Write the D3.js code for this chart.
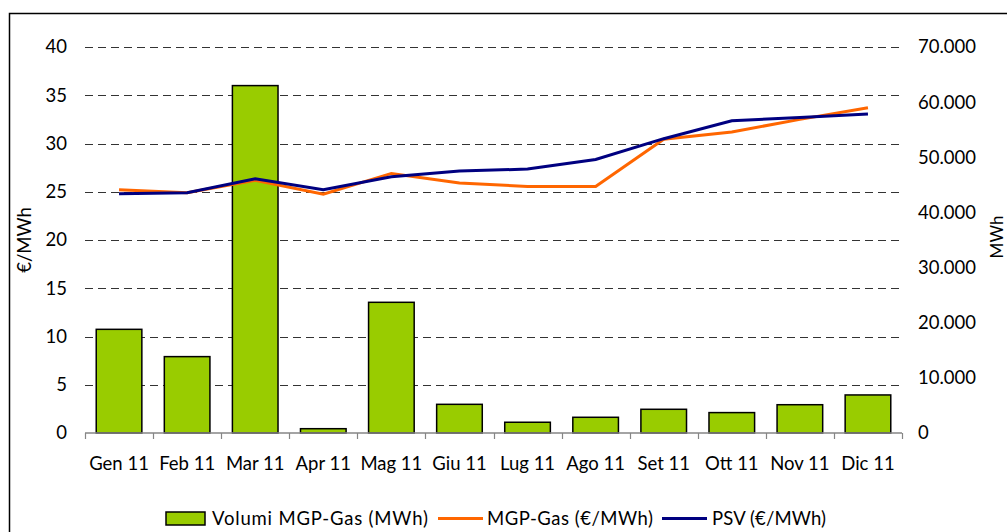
<!DOCTYPE html>
<html><head><meta charset="utf-8">
<script src="https://cdn.jsdelivr.net/npm/d3@7"></script>
<style>body{margin:0;background:#fff}svg{display:block}text{font-family:Lato,"Open Sans",sans-serif;fill:#000}</style>
</head><body><svg id="c" width="1007" height="532"></svg>
<script>
const months = ["Gen 11","Feb 11","Mar 11","Apr 11","Mag 11","Giu 11","Lug 11","Ago 11","Set 11","Ott 11","Nov 11","Dic 11"];
const volumi = [18800,13850,63000,780,23700,5200,1950,2850,4300,3700,5130,6900];
const mgpPrice = [25.2,24.9,26.2,24.75,26.9,25.9,25.55,25.55,30.45,31.2,32.5,33.7];
const psvPrice = [24.8,24.9,26.35,25.2,26.55,27.15,27.35,28.35,30.5,32.35,32.7,33.05];
const leftTicks = [0,5,10,15,20,25,30,35,40];
const rightTicks = [0,10000,20000,30000,40000,50000,60000,70000];
const seriesNames = ["Volumi MGP-Gas (MWh)","MGP-Gas (€/MWh)","PSV (€/MWh)"];

const svg = d3.select("#c");
const L = 85, R = 902, T = 47, B = 433;
const FS = 18.5;
const x = d3.scaleBand().domain(months).range([L,R]).paddingInner(0.33).paddingOuter(0.165);
const xb = d3.scaleBand().domain(months).range([L,R]);
const yL = d3.scaleLinear().domain([0,40]).range([B,T]);
const yR = d3.scaleLinear().domain([0,70000]).range([B,T]);
const fmt = v => d3.format(",")(v).replace(/,/g,".");

// outer frame
svg.append("rect").attr("x",9.5).attr("y",13.5).attr("width",1010).attr("height",530)
  .attr("fill","none").attr("stroke","#000").attr("stroke-width",1.5);

// gridlines
svg.append("g").selectAll("line").data(leftTicks.filter(d=>d>0)).join("line")
  .attr("x1",L).attr("x2",R).attr("y1",d=>Math.round(yL(d))+0.5).attr("y2",d=>Math.round(yL(d))+0.5)
  .attr("stroke","#333").attr("stroke-width",1).attr("stroke-dasharray","8,5");

// left axis labels
const gl = svg.append("g").attr("transform",`translate(${L},0)`).call(d3.axisLeft(yL).tickValues(leftTicks).tickSize(0).tickPadding(18));
gl.select(".domain").remove();
gl.selectAll("text").attr("font-size",FS).style("font-family","Lato");
// right axis labels
const gr = svg.append("g").attr("transform",`translate(${R},0)`).call(d3.axisRight(yR).tickValues(rightTicks).tickFormat(fmt).tickSize(0).tickPadding(16));
gr.select(".domain").remove();
gr.selectAll("text").attr("font-size",FS).style("font-family","Lato");

// bars
svg.append("g").selectAll("rect").data(volumi).join("rect")
  .attr("x",(d,i)=>x(months[i])).attr("width",x.bandwidth())
  .attr("y",d=>yR(d)).attr("height",d=>B-yR(d))
  .attr("fill","#99CC00").attr("stroke","#000").attr("stroke-width",1.5);

// x axis
const gx = svg.append("g").attr("transform",`translate(0,${B})`).call(d3.axisBottom(xb).tickSize(0).tickPadding(24));
gx.select(".domain").attr("stroke","#868686").attr("stroke-width",1.5).attr("d",`M${L},0H${R}`);
gx.selectAll("text").attr("font-size",FS).style("font-family","Lato");
svg.append("g").selectAll("line").data(d3.range(13)).join("line")
  .attr("x1",i=>Math.round(L+i*xb.step())+0.5).attr("x2",i=>Math.round(L+i*xb.step())+0.5)
  .attr("y1",B).attr("y2",B+6).attr("stroke","#868686").attr("stroke-width",1.2);

// lines
const cx = i => xb(months[i]) + xb.bandwidth()/2;
const line = d3.line().x((d,i)=>cx(i)).y(d=>yL(d));
svg.append("path").datum(mgpPrice).attr("d",line).attr("fill","none").attr("stroke","#FF6600").attr("stroke-width",3);
svg.append("path").datum(psvPrice).attr("d",line).attr("fill","none").attr("stroke","#000080").attr("stroke-width",3);

// axis titles
svg.append("text").attr("transform","translate(31,240) rotate(-90)").attr("text-anchor","middle").attr("font-size",FS).text("€/MWh");
svg.append("text").attr("transform","translate(1003,237) rotate(-90)").attr("text-anchor","middle").attr("font-size",17).text("MWh");

// legend
const lg = svg.append("g");
lg.append("rect").attr("x",166).attr("y",512).attr("width",39).attr("height",13).attr("fill","#99CC00").attr("stroke","#000").attr("stroke-width",1.5);
lg.append("text").attr("x",212).attr("y",525).attr("font-size",FS).attr("textLength",216).text(seriesNames[0]);
lg.append("line").attr("x1",438).attr("x2",483).attr("y1",518.5).attr("y2",518.5).attr("stroke","#FF6600").attr("stroke-width",3);
lg.append("text").attr("x",487).attr("y",525).attr("font-size",FS).attr("textLength",166).text(seriesNames[1]);
lg.append("line").attr("x1",662).attr("x2",707).attr("y1",518.5).attr("y2",518.5).attr("stroke","#000080").attr("stroke-width",3);
lg.append("text").attr("x",712).attr("y",525).attr("font-size",FS).attr("textLength",114).text(seriesNames[2]);
</script></body></html>
